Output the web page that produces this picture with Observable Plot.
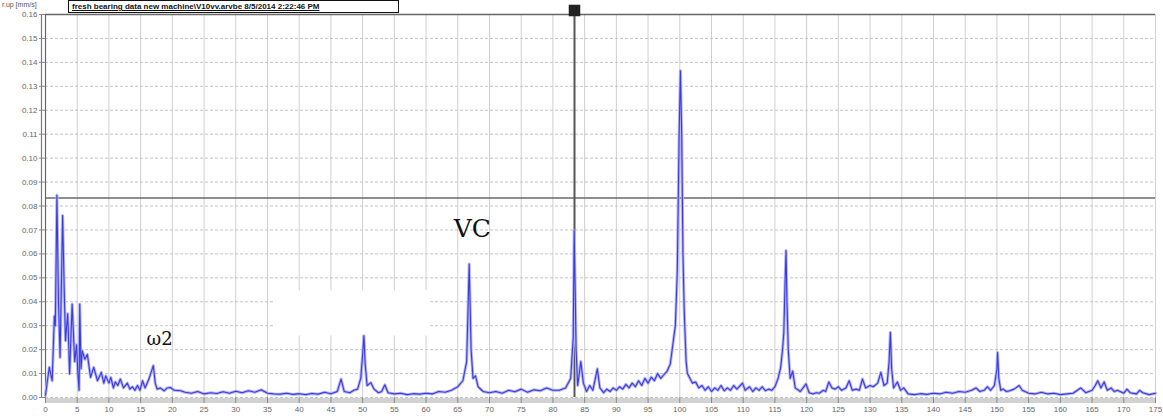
<!DOCTYPE html>
<html>
<head>
<meta charset="utf-8">
<script src="https://cdn.jsdelivr.net/npm/d3@7"></script>
<script src="https://cdn.jsdelivr.net/npm/@observablehq/plot@0.6"></script>
<style>
  html, body { margin: 0; padding: 0; background: #fff; }
  #wrap { position: relative; width: 1163px; height: 418px; overflow: hidden; }
  #unit { position: absolute; left: 2px; top: 1px; font: 7px "Liberation Sans", Arial, sans-serif; color: #555; }
  #title { position: absolute; left: 68px; top: 0px; width: 326px; height: 11px; border: 1px solid #111;
           font: bold 8px "Liberation Sans", Arial, sans-serif; color: #111; text-decoration: underline;
           line-height: 11px; padding-left: 3px; white-space: nowrap; overflow: hidden; background: #fff; }
</style>
</head>
<body>
<div id="wrap">
  <div id="chart"></div>
  <div id="unit">r.up [mm/s]</div>
  <div id="title">fresh bearing data new machine\V10vv.arvbe 8/5/2014 2:22:46 PM</div>
</div>
<script>
// Frequency axis values and amplitude (mm/s)
const freq = [
  0.0, 0.3, 0.6, 1.05, 1.4, 1.55, 1.8, 2.05, 2.3, 2.7, 2.95, 3.15, 3.5, 3.8, 4.2, 4.6, 4.9, 5.1, 5.3, 5.4,
  5.6, 5.8, 6.2, 6.6, 7.1, 7.6, 8.2, 8.8, 9.2, 9.5, 10.0, 10.3, 10.7, 11.0, 11.4, 11.8, 12.3, 12.9, 13.3, 13.7,
  14.1, 14.5, 14.9, 15.3, 15.7, 16.3, 17.0, 17.3, 17.6, 18.1, 18.7, 19.2, 19.7, 20.3, 21.3,
  22, 23, 24, 25, 26, 27, 28, 29, 30, 31, 32, 33, 34, 35, 36, 37, 38, 39, 40, 41, 42, 43, 44, 45, 46,
  46.6, 47.1, 48, 48.6, 49.2, 49.7, 50.0, 50.2, 50.4, 50.7, 51.3, 51.8, 52.5, 53.0, 53.5, 54,
  55, 56, 57, 58, 59, 60, 61, 62, 63, 64, 65, 65.8, 66.4, 66.8, 67.1, 67.4, 67.8, 68.2, 69,
  70, 71, 72, 73, 74, 75, 76, 77, 78, 79, 80, 81, 82, 82.8, 83.2, 83.35, 83.5, 83.65, 83.9, 84.4,
  84.8, 85.3, 85.8, 86.3, 87.0, 87.4, 88, 88.5, 89, 89.5, 90, 90.5, 91, 91.5, 92, 92.5, 93, 93.5,
  94, 94.5, 95, 95.5, 96, 96.5, 97, 97.5, 98, 98.5, 99.0, 99.3, 99.6, 99.9, 100.1, 100.3, 100.5,
  100.7, 101.0, 101.2, 101.6, 102, 102.5, 103, 103.5, 104, 104.5, 105, 105.5, 106, 106.5, 107,
  107.5, 108, 108.5, 109, 109.9, 110.3, 111, 111.5, 112, 112.5, 113, 113.5, 114, 114.5, 115,
  115.5, 115.9, 116.2, 116.4, 116.6, 116.75, 116.9, 117.1, 117.4, 117.8, 118.2, 119, 119.9, 120.4,
  121, 121.5, 122, 122.6, 123.0, 123.5, 124, 124.5, 125, 125.5, 126.2, 126.7, 127.2, 127.8, 128.3,
  128.8, 129.3, 130, 130.5, 131.2, 131.7, 132.2, 132.7, 133.0, 133.2, 133.4, 133.7, 134.3, 134.8,
  135.3, 136, 137, 138, 139, 140, 141, 142, 143, 144, 145, 146, 146.7, 147.3, 148, 148.5, 149,
  149.6, 150.0, 150.1, 150.3, 150.6, 151, 151.5, 152, 152.7, 153.5, 154, 155, 156, 157, 158, 159,
  160, 161, 162, 163.2, 164, 165, 165.5, 165.9, 166.4, 166.9, 167.4, 168, 168.5, 169, 170, 170.5,
  171, 172, 172.5, 173, 174, 175
];
const amp = [
  0.001, 0.007, 0.0126, 0.007, 0.034, 0.030, 0.0845, 0.040, 0.0167, 0.076, 0.045, 0.0237, 0.035, 0.0098, 0.039, 0.015, 0.022, 0.010, 0.003, 0.039,
  0.012, 0.0195, 0.016, 0.018, 0.0084, 0.0126, 0.007, 0.0105, 0.006, 0.009, 0.006, 0.0084, 0.004, 0.0065, 0.005, 0.0077, 0.004, 0.006, 0.0035, 0.0045,
  0.003, 0.005, 0.003, 0.007, 0.004, 0.0077, 0.0133, 0.006, 0.0035, 0.004, 0.0028, 0.004, 0.0042, 0.003, 0.0028,
  0.0022, 0.0018, 0.0025, 0.0015, 0.002, 0.0017, 0.0024, 0.0018, 0.0026, 0.002, 0.0028, 0.0022, 0.0032, 0.0018, 0.0015, 0.0014, 0.0018, 0.0013, 0.0016, 0.0012, 0.0017, 0.0014, 0.0022, 0.0016, 0.0025,
  0.0077, 0.0025, 0.002, 0.003, 0.0035, 0.008, 0.018, 0.0258, 0.014, 0.005, 0.0062, 0.0035, 0.002, 0.0025, 0.0053, 0.002,
  0.0015, 0.0018, 0.0012, 0.0016, 0.0014, 0.0018, 0.0015, 0.0025, 0.0022, 0.003, 0.0045, 0.007, 0.015, 0.0558, 0.02, 0.008, 0.009, 0.0045, 0.0025,
  0.002, 0.0025, 0.0018, 0.003, 0.0024, 0.0035, 0.0022, 0.0032, 0.0028, 0.004, 0.003, 0.003, 0.004, 0.008, 0.025, 0.0697, 0.0467, 0.02, 0.005, 0.015,
  0.006, 0.0025, 0.005, 0.003, 0.012, 0.004, 0.002, 0.0035, 0.0025, 0.004, 0.003, 0.0045, 0.0035, 0.0055, 0.004, 0.006, 0.0045, 0.007,
  0.005, 0.008, 0.006, 0.0085, 0.007, 0.010, 0.008, 0.0095, 0.011, 0.014, 0.024, 0.030, 0.052, 0.110, 0.1365, 0.110, 0.060,
  0.036, 0.015, 0.010, 0.008, 0.006, 0.0065, 0.004, 0.005, 0.003, 0.0045, 0.0025, 0.004, 0.003, 0.005, 0.0028,
  0.004, 0.003, 0.005, 0.0035, 0.006, 0.003, 0.0045, 0.0025, 0.004, 0.003, 0.0045, 0.0028, 0.0035, 0.003, 0.0045,
  0.008, 0.0125, 0.020, 0.027, 0.048, 0.0614, 0.040, 0.020, 0.008, 0.011, 0.004, 0.0025, 0.0057, 0.002,
  0.0015, 0.002, 0.0018, 0.003, 0.0025, 0.0065, 0.004, 0.0035, 0.0045, 0.003, 0.004, 0.007, 0.003, 0.0035, 0.003,
  0.0077, 0.004, 0.005, 0.0045, 0.006, 0.0105, 0.005, 0.006, 0.015, 0.0272, 0.012, 0.004, 0.0065, 0.003,
  0.004, 0.0015, 0.0012, 0.0016, 0.0013, 0.0018, 0.0015, 0.0022, 0.0018, 0.0025, 0.0022, 0.003, 0.004, 0.0025, 0.003, 0.0045, 0.003,
  0.005, 0.012, 0.0188, 0.008, 0.003, 0.0035, 0.0025, 0.0028, 0.0035, 0.005, 0.003, 0.0018, 0.0015, 0.0022, 0.0015, 0.0018,
  0.0012, 0.0015, 0.0018, 0.004, 0.002, 0.003, 0.005, 0.007, 0.004, 0.0065, 0.003, 0.004, 0.0025, 0.003, 0.0018, 0.0035,
  0.002, 0.0015, 0.003, 0.002, 0.0012, 0.0018
];
const xTicks = [0,5,10,15,20,25,30,35,40,45,50,55,60,65,70,75,80,85,90,95,100,105,110,115,120,125,130,135,140,145,150,155,160,165,170,175];
const yTicks = [0,0.01,0.02,0.03,0.04,0.05,0.06,0.07,0.08,0.09,0.10,0.11,0.12,0.13,0.14,0.15,0.16];
const cursorX = [83.4];
const cursorY = [0.0833];
const labels = [
  {x: 67.3, y: 0.0705, text: "VC", size: 25},
  {x: 18.0, y: 0.0245, text: "ω2", size: 18}
];
const mask = [{x1: 36.3, x2: 60.7, y1: 0.0257, y2: 0.0446}];

const data = freq.map((f, i) => ({f, a: amp[i]}));

const chart = Plot.plot({
  width: 1163,
  height: 418,
  marginLeft: 45,
  marginRight: 8,
  marginTop: 14,
  marginBottom: 21,
  style: {fontFamily: "'Liberation Sans', Arial, sans-serif", fontSize: "8px", color: "#666", background: "#fff"},
  x: {domain: [0, 175], label: null},
  y: {domain: [0, 0.16], label: null},
  marks: [
    Plot.gridX(xTicks, {stroke: "#cfcfcf", strokeOpacity: 1, strokeWidth: 1}),
    Plot.gridY(yTicks, {stroke: "#c4c4c4", strokeOpacity: 1, strokeWidth: 1, strokeDasharray: "3,2"}),
    Plot.rect(mask, {x1: "x1", x2: "x2", y1: "y1", y2: "y2", fill: "#fff"}),
    Plot.ruleY([0], {stroke: "#d2d2d2", strokeWidth: 5, dy: 3}),
    Plot.ruleY([0.16], {stroke: "#666", strokeWidth: 1.5}),
    Plot.ruleX([0], {stroke: "#666", strokeWidth: 1.2}),
    Plot.ruleX([0], {stroke: "#777", strokeWidth: 1.2, dx: -4}),
    Plot.ruleY(cursorY, {stroke: "#6a6a6a", strokeWidth: 1.5}),
    Plot.ruleX(cursorX, {stroke: "#555", strokeWidth: 2}),
    Plot.line(data, {x: "f", y: "a", stroke: "#b4b4f4", strokeWidth: 3, curve: "linear"}),
    Plot.line(data, {x: "f", y: "a", stroke: "#3a3ae0", strokeWidth: 1.1, curve: "linear"}),
    Plot.dot(cursorX, {x: d => d, y: () => 0.16, symbol: "square", r: 6.5, fill: "#222", dy: -4}),
    Plot.text(labels, {x: "x", y: "y", text: "text", fontSize: d => d.size, fontFamily: "'DejaVu Serif', 'Liberation Serif', serif", fill: "#111"}),
    Plot.axisX({ticks: xTicks, tickFormat: d => String(d), tickSize: 6, tickPadding: 3, stroke: "#888", fill: "#666"}),
    Plot.axisY({ticks: yTicks, tickFormat: d3.format(".2f"), tickSize: 6, tickPadding: 2, stroke: "#888", fill: "#666"})
  ]
});
document.getElementById("chart").appendChild(chart);
</script>
</body>
</html>
